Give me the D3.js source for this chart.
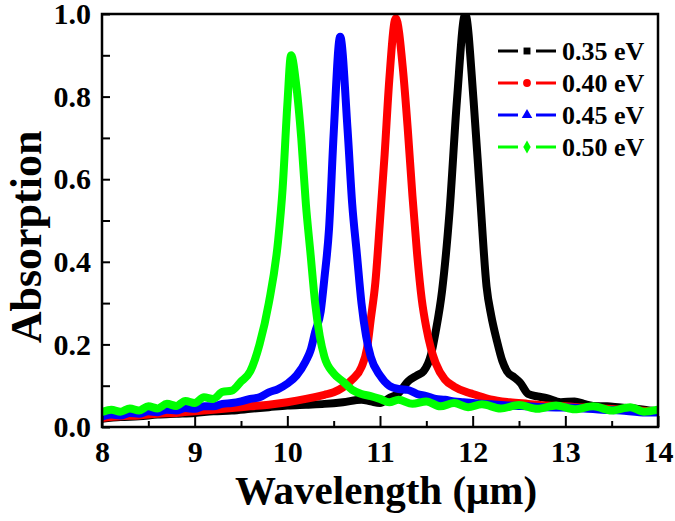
<!DOCTYPE html>
<html>
<head>
<meta charset="utf-8">
<script src="https://cdn.jsdelivr.net/npm/d3@7"></script>
<style>
  body { margin: 0; background: #fff; }
  text { font-family: "Liberation Serif", "Times New Roman", serif; font-weight: bold; }
</style>
</head>
<body>
<script>
// series (wavelength in um, absorption)
var labels = ["0.35 eV", "0.40 eV", "0.45 eV", "0.50 eV"];
var colors = ["#000000", "#ff0000", "#0000ff", "#00ff00"];
var markers = ["square", "circle", "triangle", "diamond"];

var wl035 = [8.0, 8.2, 8.4, 8.6, 8.8, 9.0, 9.2, 9.4, 9.6, 9.8, 10.0, 10.2, 10.4, 10.6, 10.8, 10.9, 11.0, 11.1, 11.2, 11.3, 11.4, 11.47, 11.55, 11.6, 11.67, 11.75, 11.83, 11.92, 12.01, 12.08, 12.15, 12.2, 12.26, 12.32, 12.37, 12.45, 12.51, 12.6, 12.7, 12.8, 12.95, 13.1, 13.2, 13.3, 13.45, 13.6, 13.75, 13.9, 14.0];
var ab035 = [0.020, 0.024, 0.026, 0.030, 0.032, 0.034, 0.038, 0.040, 0.044, 0.048, 0.052, 0.054, 0.056, 0.060, 0.066, 0.062, 0.058, 0.070, 0.082, 0.110, 0.125, 0.135, 0.175, 0.230, 0.330, 0.520, 0.790, 1.000, 0.790, 0.560, 0.340, 0.270, 0.210, 0.160, 0.135, 0.120, 0.108, 0.080, 0.074, 0.070, 0.060, 0.062, 0.056, 0.051, 0.050, 0.047, 0.045, 0.040, 0.038];

var wl040 = [8.0, 8.2, 8.4, 8.6, 8.8, 9.0, 9.2, 9.4, 9.6, 9.8, 10.0, 10.2, 10.4, 10.5, 10.6, 10.7, 10.8, 10.86, 10.9, 10.95, 11.0, 11.05, 11.1, 11.17, 11.25, 11.3, 11.35, 11.4, 11.45, 11.5, 11.55, 11.6, 11.7, 11.8, 11.94, 12.0, 12.19, 12.4, 12.6, 12.8, 13.0, 13.2, 13.4, 13.6, 13.8, 14.0];
var ab040 = [0.022, 0.026, 0.028, 0.032, 0.034, 0.038, 0.042, 0.046, 0.050, 0.054, 0.060, 0.068, 0.078, 0.084, 0.096, 0.115, 0.145, 0.190, 0.260, 0.350, 0.500, 0.660, 0.840, 0.990, 0.860, 0.720, 0.560, 0.420, 0.310, 0.240, 0.190, 0.155, 0.115, 0.098, 0.084, 0.080, 0.067, 0.060, 0.056, 0.052, 0.050, 0.047, 0.045, 0.042, 0.040, 0.036];

var wl045 = [8.0, 8.1, 8.2, 8.3, 8.4, 8.5, 8.6, 8.7, 8.8, 8.9, 9.0, 9.1, 9.2, 9.3, 9.4, 9.5, 9.6, 9.7, 9.8, 9.9, 10.0, 10.1, 10.2, 10.25, 10.3, 10.36, 10.4, 10.45, 10.5, 10.57, 10.65, 10.7, 10.75, 10.8, 10.85, 10.9, 11.0, 11.1, 11.2, 11.3, 11.4, 11.5, 11.6, 11.7, 11.8, 11.9, 12.0, 12.2, 12.4, 12.6, 12.8, 13.0, 13.2, 13.4, 13.6, 13.8, 14.0];
var ab045 = [0.025, 0.030, 0.028, 0.034, 0.032, 0.038, 0.036, 0.042, 0.040, 0.046, 0.044, 0.050, 0.050, 0.056, 0.058, 0.062, 0.068, 0.072, 0.084, 0.092, 0.105, 0.125, 0.160, 0.185, 0.230, 0.280, 0.360, 0.480, 0.710, 0.945, 0.720, 0.540, 0.420, 0.300, 0.220, 0.170, 0.125, 0.100, 0.092, 0.090, 0.080, 0.075, 0.068, 0.066, 0.062, 0.060, 0.058, 0.055, 0.052, 0.050, 0.048, 0.047, 0.045, 0.042, 0.040, 0.036, 0.035];

var wl050 = [8.0, 8.1, 8.2, 8.3, 8.4, 8.5, 8.6, 8.7, 8.8, 8.9, 9.0, 9.1, 9.2, 9.3, 9.4, 9.5, 9.6, 9.7, 9.8, 9.9, 9.95, 10.0, 10.04, 10.1, 10.15, 10.2, 10.25, 10.3, 10.35, 10.4, 10.5, 10.6, 10.7, 10.8, 10.9, 11.0, 11.1, 11.2, 11.35, 11.5, 11.65, 11.8, 11.95, 12.1, 12.3, 12.5, 12.7, 12.9, 13.1, 13.3, 13.5, 13.7, 13.85, 14.0];
var ab050 = [0.036, 0.042, 0.037, 0.045, 0.040, 0.050, 0.045, 0.056, 0.051, 0.063, 0.058, 0.072, 0.068, 0.085, 0.088, 0.110, 0.135, 0.200, 0.300, 0.450, 0.580, 0.780, 0.900, 0.820, 0.700, 0.540, 0.420, 0.300, 0.220, 0.170, 0.130, 0.110, 0.090, 0.080, 0.075, 0.068, 0.060, 0.066, 0.056, 0.062, 0.050, 0.058, 0.048, 0.055, 0.045, 0.053, 0.044, 0.052, 0.043, 0.050, 0.040, 0.048, 0.037, 0.042];

var xTicks = [8, 9, 10, 11, 12, 13, 14];
var yTicks = [0.0, 0.2, 0.4, 0.6, 0.8, 1.0];

var series = [
  { wl: wl035, ab: ab035 },
  { wl: wl040, ab: ab040 },
  { wl: wl045, ab: ab045 },
  { wl: wl050, ab: ab050 }
];

var width = 675, height = 521;
var margin = { left: 102, right: 17, top: 14, bottom: 94 };
var w = width - margin.left - margin.right;
var h = height - margin.top - margin.bottom;

var svg = d3.select('body').append('svg')
  .attr('width', width)
  .attr('height', height);

var x = d3.scaleLinear().domain([8, 14]).range([0, w]);
var y = d3.scaleLinear().domain([0, 1]).range([h, 0]);

var g = svg.append('g')
  .attr('transform', 'translate(' + margin.left + ',' + margin.top + ')');

g.append('clipPath').attr('id', 'clip')
  .append('rect').attr('width', w).attr('height', h);

var line = d3.line()
  .x((d) => x(d[0]))
  .y((d) => y(d[1]))
  .curve(d3.curveMonotoneX);

series.forEach(function(s, i) {
  g.append('path')
    .datum(s.wl.map((v, j) => [v, s.ab[j]]))
    .attr('clip-path', 'url(#clip)')
    .attr('fill', 'none')
    .attr('stroke', colors[i])
    .attr('stroke-width', 8)
    .attr('stroke-linejoin', 'round')
    .attr('d', line);
});

// minor ticks
g.append('g')
  .attr('transform', 'translate(0,' + h + ')')
  .call(d3.axisBottom(x).tickValues(d3.range(8.5, 14, 1)).tickSize(-6).tickFormat(''))
  .call((a) => a.select('.domain').remove());
g.append('g')
  .call(d3.axisLeft(y).tickValues(d3.range(0.1, 1, 0.2)).tickSize(-8).tickFormat(''))
  .call((a) => a.select('.domain').remove());

// major ticks
var xa = g.append('g')
  .attr('transform', 'translate(0,' + h + ')')
  .call(d3.axisBottom(x).tickValues(xTicks).tickSize(-11).tickPadding(14).tickFormat(d3.format('d')));
xa.select('.domain').remove();
xa.selectAll('text').attr('font-size', 30).attr('fill', '#000');

var ya = g.append('g')
  .call(d3.axisLeft(y).tickValues(yTicks).tickSize(-8).tickPadding(11).tickFormat(d3.format('.1f')));
ya.select('.domain').remove();
ya.selectAll('text').attr('font-size', 30).attr('fill', '#000');

g.selectAll('.tick line').attr('stroke', '#000').attr('stroke-width', 2);

g.append('rect')
  .attr('width', w)
  .attr('height', h)
  .attr('fill', 'none')
  .attr('stroke', '#000')
  .attr('stroke-width', 2.5);

// legend
var sym = {
  square: d3.symbolSquare,
  circle: d3.symbolCircle,
  triangle: d3.symbolTriangle,
  diamond: d3.symbolDiamond
};
var leg = svg.append('g').attr('transform', 'translate(498, 51)');
labels.forEach(function(lab, i) {
  var row = leg.append('g').attr('transform', 'translate(0,' + (i * 32) + ')');
  row.append('line').attr('x1', 0).attr('x2', 20).attr('stroke', colors[i]).attr('stroke-width', 3);
  row.append('line').attr('x1', 38).attr('x2', 58).attr('stroke', colors[i]).attr('stroke-width', 3);
  row.append('path')
    .attr('transform', 'translate(29,0)')
    .attr('d', d3.symbol().type(sym[markers[i]]).size(48)())
    .attr('fill', colors[i]);
  row.append('text')
    .attr('x', 64)
    .attr('y', 9)
    .attr('font-size', 26)
    .text(lab);
});

svg.append('text')
  .attr('x', 386)
  .attr('y', 504)
  .attr('text-anchor', 'middle')
  .attr('font-size', 41)
  .text('Wavelength (\u03bcm)');

svg.append('text')
  .attr('transform', 'translate(41,237) rotate(-90)')
  .attr('text-anchor', 'middle')
  .attr('font-size', 44)
  .text('Absorption');
</script>
</body>
</html>
